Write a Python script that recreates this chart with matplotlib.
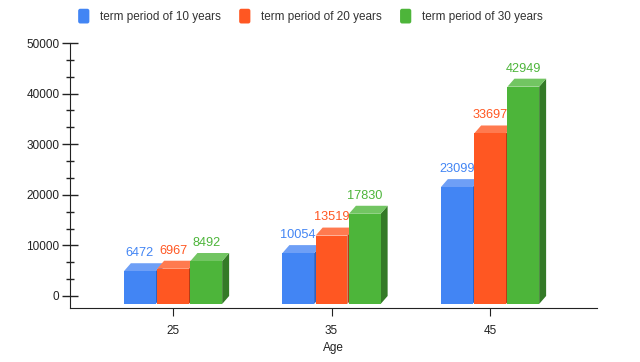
import matplotlib
matplotlib.use('Agg')
import matplotlib.pyplot as plt
from matplotlib.patches import Polygon, FancyBboxPatch
from matplotlib.legend_handler import HandlerPatch
import numpy as np

plt.rcParams['font.family'] = ['Liberation Sans', 'DejaVu Sans']

ages = ['25', '35', '45']
series_names = ['term period of 10 years', 'term period of 20 years', 'term period of 30 years']
term_10 = [6472, 10054, 23099]
term_20 = [6967, 13519, 33697]
term_30 = [8492, 17830, 42949]
values = [term_10, term_20, term_30]

front = ['#4285F4', '#FF5722', '#4DB53A']
top = ['#6E9FF6', '#FF7A4F', '#72C562']
side = ['#2F62C0', '#B83C15', '#347A27']

fig = plt.figure(figsize=(6.4, 3.62), dpi=100)
ax = fig.add_axes([70 / 640, 1 - 308 / 362, 527 / 640, 265 / 362])

ax.set_xlim(-0.65, 2.675)
ax.set_ylim(-2376, 50000)

w = 0.2
offsets = [-0.21, 0.0, 0.21]
dx = 0.044   # depth in x (data units)
dy = 1581    # depth in y (data units)

x = np.arange(len(ages))
for s, vals in enumerate(values):
    for i, v in enumerate(vals):
        x0 = x[i] + offsets[s] - w / 2
        x1 = x0 + w
        b = -dy
        t = v - dy
        ax.add_patch(Polygon([(x1, b), (x1 + dx, 0), (x1 + dx, v), (x1, t)],
                             closed=True, fc=side[s], lw=0, zorder=2))
        ax.add_patch(Polygon([(x0, t), (x1, t), (x1 + dx, v), (x0 + dx, v)],
                             closed=True, fc=top[s], lw=0, zorder=2))
        ax.add_patch(Polygon([(x0, b), (x1, b), (x1, t), (x0, t)],
                             closed=True, fc=front[s], lw=0, zorder=2))
        ax.annotate(str(v), (x0 + w / 2, v), xytext=(0, 3), textcoords='offset points',
                    ha='center', va='bottom', fontsize=9.2, color=front[s], zorder=3)

for sp in ['top', 'right']:
    ax.spines[sp].set_visible(False)
ax.spines['left'].set_color('#222222')
ax.spines['bottom'].set_color('#222222')

ax.set_yticks(np.arange(0, 50001, 10000))
minors = [m for m in np.arange(0, 50001, 10000 / 3) if abs(m / 10000 - round(m / 10000)) > 1e-6]
ax.set_yticks(minors, minor=True)
ax.tick_params(axis='y', which='major', direction='inout', length=11, width=1,
               color='#222222', labelsize=8.5, labelcolor='#222222', pad=2)
ax.tick_params(axis='y', which='minor', direction='inout', length=6, width=1, color='#222222')

ax.set_xticks(x)
ax.set_xticklabels(ages)
ax.tick_params(axis='x', direction='out', length=6, color='#222222',
               labelsize=8.5, labelcolor='#222222', pad=6)
ax.set_xlabel('Age', fontsize=8.5, color='#222222', labelpad=4)


class RoundSquare(HandlerPatch):
    def create_artists(self, legend, orig_handle, xdescent, ydescent, width, height, fontsize, trans):
        p = FancyBboxPatch((-xdescent, -ydescent - 1.5), width, height + 3,
                           boxstyle='round,pad=0,rounding_size=1.5',
                           fc=orig_handle.get_facecolor(), ec='none', transform=trans)
        return [p]


handles = [Polygon([(0, 0)], fc=c, ec='none') for c in front]
fig.legend(handles, series_names, loc='center', bbox_to_anchor=(0.485, 1 - 17 / 362), ncol=3,
           frameon=False, fontsize=8.5, handlelength=0.95, handleheight=1.0,
           handletextpad=0.9, columnspacing=1.55, labelcolor='#333333',
           handler_map={Polygon: RoundSquare()})

fig.savefig('out.png', dpi=100)
